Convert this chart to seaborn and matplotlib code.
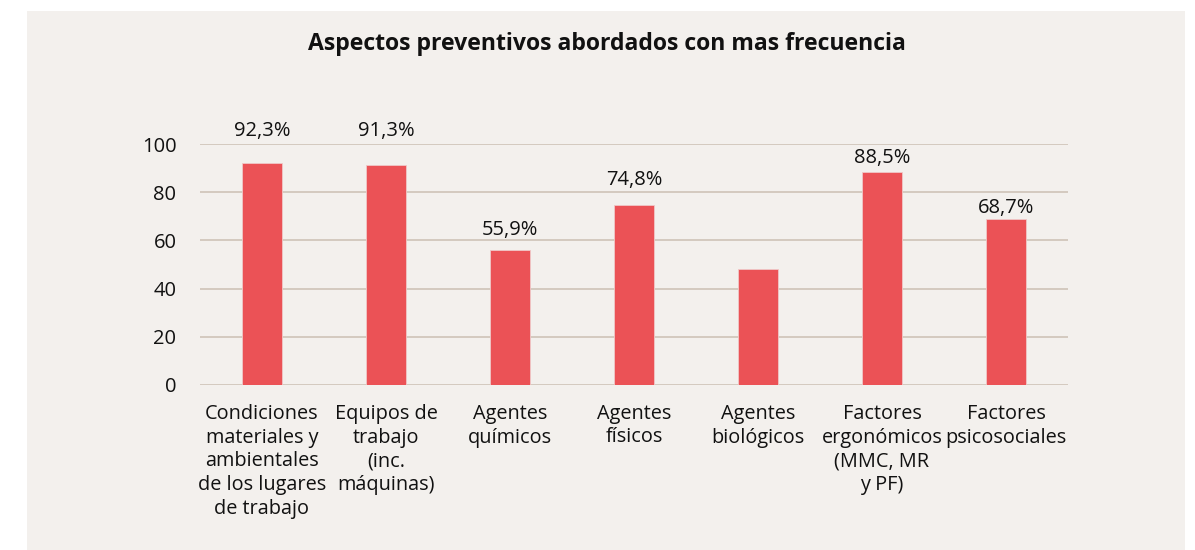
import matplotlib
matplotlib.use("Agg")
import matplotlib.pyplot as plt
import seaborn as sns
import pandas as pd
from matplotlib.patches import Rectangle

categorias = ["Condiciones\nmateriales y\nambientales\nde los lugares\nde trabajo",
              "Equipos de\ntrabajo\n(inc.\nmáquinas)",
              "Agentes\nquímicos",
              "Agentes\nfísicos",
              "Agentes\nbiológicos",
              "Factores\nergonómicos\n(MMC, MR\ny PF)",
              "Factores\npsicosociales"]
valores = [92.3, 91.3, 55.9, 74.8, 48.3, 88.5, 68.7]
etiquetas = ["92,3%", "91,3%", "55,9%", "74,8%", "", "88,5%", "68,7%"]
# offset of each value label above its bar (data units), as in the original
label_pad = [13.1, 14.1, 8.4, 10.3, 0, 5.7, 4.7]
yticks = [0, 20, 40, 60, 80, 100]

fondo = "#f3f0ed"
rojo = "#eb5256"
rejilla = "#cbbfb3"

sns.set_theme(style="white")
plt.rcParams['font.family'] = ['Open Sans', 'DejaVu Sans']

df = pd.DataFrame({"cat": categorias, "val": valores})

fig = plt.figure(figsize=(11.95, 5.5), dpi=100, facecolor="white")
fondo_rect = Rectangle((27 / 1195, 0), 1158 / 1195, 539 / 550,
                       transform=fig.transFigure, facecolor=fondo,
                       edgecolor="none", zorder=-10)
fig.add_artist(fondo_rect)
ax = fig.add_axes([200 / 1195, 165 / 550, 868 / 1195, 241 / 550])
ax.set_facecolor("none")

sns.barplot(data=df, x="cat", y="val", color=rojo, width=0.315,
            saturation=1, ax=ax, zorder=3, edgecolor="#f0c8c8", linewidth=0.6)

ax.set_ylim(0, 100)
ax.set_yticks(yticks)
ax.yaxis.grid(True, color=rejilla, linewidth=1.1, zorder=0)
ax.set_axisbelow(True)
for s in ax.spines.values():
    s.set_visible(False)
ax.tick_params(axis="y", length=0, pad=17, labelsize=14.5, labelcolor="#111111")
ax.tick_params(axis="x", length=0, pad=13.5, labelsize=14.3, labelcolor="#111111")
for t in ax.get_xticklabels():
    t.set_linespacing(1.25)
ax.set_xlabel("")
ax.set_ylabel("")

for i, (v, e, p) in enumerate(zip(valores, etiquetas, label_pad)):
    if e:
        ax.text(i, v + p, e, ha="center", va="center", fontsize=14.5,
                color="#111111", clip_on=False)

fig.text(607 / 1195, 1 - 44 / 550, "Aspectos preventivos abordados con mas frecuencia",
         ha="center", va="center", fontsize=16.6, fontweight="bold", color="#111111")

fig.savefig("out.png", dpi=100, facecolor="white")
